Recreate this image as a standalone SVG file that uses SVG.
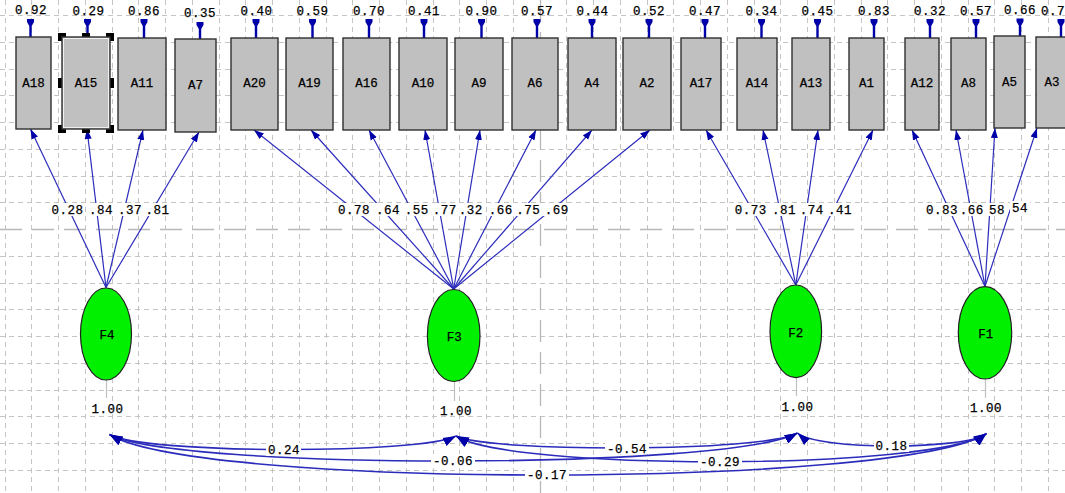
<svg xmlns="http://www.w3.org/2000/svg" width="1065" height="493" viewBox="0 0 1065 493">
<style>
.gmin{fill:none;stroke:#c4c4c4;stroke-width:1;stroke-dasharray:5 4}
.gmaj{fill:none;stroke:#b8b8b8;stroke-width:1.3;stroke-dasharray:22 10}
.ld{fill:none;stroke:#2c2cbc;stroke-width:1.2;marker-end:url(#ah)}
.cv{fill:none;stroke:#2c2cbc;stroke-width:1.6;marker-start:url(#ch);marker-end:url(#ch)}
.pin{fill:#0000a8}
.var{stroke:#c0c0c0;stroke-width:1.2}
.t{font-family:"Liberation Mono","Courier New",monospace;font-size:12.5px;letter-spacing:0.5px;fill:#000;stroke:#000;stroke-width:0.25;text-anchor:middle}
.bx{fill:#c0c0c0;stroke:#303030;stroke-width:1.4}
.el{fill:#00f000;stroke:#202020;stroke-width:1.2}
.nl{font-family:"Liberation Mono","Courier New",monospace;font-size:12.5px;fill:#000;stroke:#000;stroke-width:0.25;text-anchor:middle}
.bg{fill:#fff}
.hd{fill:#000}
</style>
<defs>
<marker id="ah" markerUnits="userSpaceOnUse" markerWidth="10" markerHeight="8" refX="10" refY="4" orient="auto"><path d="M0,0.5 L10,4 L0,7.5 Z" fill="#0000a8"/></marker>
<marker id="ch" markerUnits="userSpaceOnUse" markerWidth="13" markerHeight="10" refX="13" refY="5" orient="auto-start-reverse"><path d="M0,0.5 L13,5 L0,9.5 Z" fill="#0000a8"/></marker>
</defs>
<rect width="1065" height="493" fill="#fff"/>
<g id="grid">
<path class="gmin" d="M5.5,0V493M31.5,0V493M58.5,0V493M85.5,0V493M112.5,0V493M138.5,0V493M165.5,0V493M192.5,0V493M219.5,0V493M245.5,0V493M272.5,0V493M299.5,0V493M326.5,0V493M352.5,0V493M379.5,0V493M406.5,0V493M433.5,0V493M459.5,0V493M486.5,0V493M513.5,0V493M566.5,0V493M593.5,0V493M620.5,0V493M647.5,0V493M673.5,0V493M700.5,0V493M727.5,0V493M754.5,0V493M780.5,0V493M807.5,0V493M834.5,0V493M861.5,0V493M887.5,0V493M914.5,0V493M941.5,0V493M968.5,0V493M994.5,0V493M1021.5,0V493M1048.5,0V493"/>
<path class="gmin" d="M0,15.5H1065M0,42.5H1065M0,69.5H1065M0,95.5H1065M0,122.5H1065M0,149.5H1065M0,176.5H1065M0,202.5H1065M0,256.5H1065M0,283.5H1065M0,309.5H1065M0,336.5H1065M0,363.5H1065M0,390.5H1065M0,416.5H1065M0,443.5H1065M0,470.5H1065"/>
<path class="gmaj" d="M540.5,0V493M0,229.5H1065"/>
</g>
<g id="connectors">
<path class="ld" d="M106,287.5 L30.5,129"/>
<path class="ld" d="M106,287.5 L87,129"/>
<path class="ld" d="M106,287.5 L143,130"/>
<path class="ld" d="M106,287.5 L199,132"/>
<path class="ld" d="M453.7,289 L254,130"/>
<path class="ld" d="M453.7,289 L311,130"/>
<path class="ld" d="M453.7,289 L369,130"/>
<path class="ld" d="M453.7,289 L425,130"/>
<path class="ld" d="M453.7,289 L480,130"/>
<path class="ld" d="M453.7,289 L536,130"/>
<path class="ld" d="M453.7,289 L592,130"/>
<path class="ld" d="M453.7,289 L650,130"/>
<path class="ld" d="M795.8,285 L706,130"/>
<path class="ld" d="M795.8,285 L763,130"/>
<path class="ld" d="M795.8,285 L818,130"/>
<path class="ld" d="M795.8,285 L873,130"/>
<path class="ld" d="M985,286.5 L912,130"/>
<path class="ld" d="M985,286.5 L956,130"/>
<path class="ld" d="M985,286.5 L995,128"/>
<path class="ld" d="M985,286.5 L1037,128"/>
<g class="pin">
<path d="M27,19 h7 v3 l-2.3,4 V37 h-2.4 V26 l-2.3,-4 z"/>
<path d="M84,19 h7 v3 l-2.3,4 V38 h-2.4 V26 l-2.3,-4 z"/>
<path d="M140.5,19 h7 v3 l-2.3,4 V38 h-2.4 V26 l-2.3,-4 z"/>
<path d="M196.5,22 h7 v3 l-2.3,4 V39 h-2.4 V29 l-2.3,-4 z"/>
<path d="M252.5,19 h7 v3 l-2.3,4 V38 h-2.4 V26 l-2.3,-4 z"/>
<path d="M309,19 h7 v3 l-2.3,4 V38 h-2.4 V26 l-2.3,-4 z"/>
<path d="M365.5,19 h7 v3 l-2.3,4 V38 h-2.4 V26 l-2.3,-4 z"/>
<path d="M420.5,19 h7 v3 l-2.3,4 V38 h-2.4 V26 l-2.3,-4 z"/>
<path d="M478,19 h7 v3 l-2.3,4 V38 h-2.4 V26 l-2.3,-4 z"/>
<path d="M533.5,19 h7 v3 l-2.3,4 V38 h-2.4 V26 l-2.3,-4 z"/>
<path d="M588.5,19 h7 v3 l-2.3,4 V38 h-2.4 V26 l-2.3,-4 z"/>
<path d="M645.5,19 h7 v3 l-2.3,4 V38 h-2.4 V26 l-2.3,-4 z"/>
<path d="M701.5,19 h7 v3 l-2.3,4 V38 h-2.4 V26 l-2.3,-4 z"/>
<path d="M758,19 h7 v3 l-2.3,4 V38 h-2.4 V26 l-2.3,-4 z"/>
<path d="M814,19 h7 v3 l-2.3,4 V38 h-2.4 V26 l-2.3,-4 z"/>
<path d="M870.5,19 h7 v3 l-2.3,4 V38 h-2.4 V26 l-2.3,-4 z"/>
<path d="M926.5,19 h7 v3 l-2.3,4 V38 h-2.4 V26 l-2.3,-4 z"/>
<path d="M972.5,19 h7 v3 l-2.3,4 V38 h-2.4 V26 l-2.3,-4 z"/>
<path d="M1016.5,18.5 h7 v3 l-2.3,4 V36 h-2.4 V25.5 l-2.3,-4 z"/>
<path d="M1057.5,19 h7 v3 l-2.3,4 V37 h-2.4 V26 l-2.3,-4 z"/>
</g>
<text class="t" x="31" y="14">0.92</text>
<text class="t" x="88.5" y="15">0.29</text>
<text class="t" x="144" y="15">0.86</text>
<text class="t" x="200" y="16.5">0.35</text>
<text class="t" x="256.5" y="15">0.40</text>
<text class="t" x="312.5" y="15">0.59</text>
<text class="t" x="369" y="15">0.70</text>
<text class="t" x="424" y="15">0.41</text>
<text class="t" x="481.5" y="15">0.90</text>
<text class="t" x="537" y="15">0.57</text>
<text class="t" x="592.5" y="15">0.44</text>
<text class="t" x="649" y="15">0.52</text>
<text class="t" x="705" y="15">0.47</text>
<text class="t" x="761.5" y="15">0.34</text>
<text class="t" x="817.5" y="15">0.45</text>
<text class="t" x="874" y="15">0.83</text>
<text class="t" x="930" y="15">0.32</text>
<text class="t" x="976" y="15">0.57</text>
<text class="t" x="1020" y="13.5">0.66</text>
<text class="t" x="1041" y="14.5" style="text-anchor:start">0.7</text>
<line class="var" x1="106.5" y1="380" x2="106.5" y2="398"/>
<line class="var" x1="454.5" y1="381.5" x2="454.5" y2="401"/>
<line class="var" x1="796.5" y1="377.5" x2="796.5" y2="396"/>
<line class="var" x1="985.5" y1="379" x2="985.5" y2="398"/>
<text class="t" x="107.5" y="413">1.00</text>
<text class="t" x="456" y="415">1.00</text>
<text class="t" x="797.5" y="410.5">1.00</text>
<text class="t" x="986" y="411.5">1.00</text>
<path class="cv" d="M109.5,434.5 C144.2,454.25 421.4,454.25 456,436"/>
<path class="cv" d="M109.5,434.5 C178.3,470.1 728.7,470.1 797.5,433"/>
<path class="cv" d="M109.5,434.5 C197.2,488.7 898.8,488.7 986.5,433.5"/>
<path class="cv" d="M456,436 C490.2,452.5 763.4,452.5 797.5,433"/>
<path class="cv" d="M456,436 C509,470.7 933.5,470.7 986.5,433.5"/>
<path class="cv" d="M797.5,433 C816.4,450.25 967.6,450.25 986.5,433.5"/>
<rect class="bg" x="266" y="443" width="35" height="13"/><text class="t" x="284" y="454">0.24</text>
<rect class="bg" x="431" y="454" width="44" height="13"/><text class="t" x="453" y="465">-0.06</text>
<rect class="bg" x="525" y="468" width="44" height="13"/><text class="t" x="547" y="479">-0.17</text>
<rect class="bg" x="605" y="441" width="44" height="13"/><text class="t" x="627" y="452.5">-0.54</text>
<rect class="bg" x="698" y="455" width="44" height="13"/><text class="t" x="720" y="465.5">-0.29</text>
<rect class="bg" x="874" y="439" width="35" height="13"/><text class="t" x="891.5" y="450">0.18</text>
<rect class="bg" x="51" y="203" width="33" height="13"/><text class="t" x="67.5" y="214">0.28</text>
<rect class="bg" x="87" y="203" width="28" height="13"/><text class="t" x="101" y="214">.84</text>
<rect class="bg" x="116" y="203" width="28" height="13"/><text class="t" x="130" y="214">.37</text>
<rect class="bg" x="144" y="203" width="27" height="13"/><text class="t" x="157.5" y="214">.81</text>
<rect class="bg" x="338" y="203" width="33" height="13"/><text class="t" x="354" y="214">0.78</text>
<rect class="bg" x="375" y="203" width="26" height="13"/><text class="t" x="388" y="214">.64</text>
<rect class="bg" x="403" y="203" width="27" height="13"/><text class="t" x="416.7" y="214">.55</text>
<rect class="bg" x="431" y="203" width="27" height="13"/><text class="t" x="444.7" y="214">.77</text>
<rect class="bg" x="458" y="203" width="26" height="13"/><text class="t" x="470.8" y="214">.32</text>
<rect class="bg" x="487" y="203" width="27" height="13"/><text class="t" x="500.8" y="214">.66</text>
<rect class="bg" x="515" y="203" width="27" height="13"/><text class="t" x="528.3" y="214">.75</text>
<rect class="bg" x="543" y="203" width="27" height="13"/><text class="t" x="556.7" y="214">.69</text>
<rect class="bg" x="734" y="203" width="34" height="13"/><text class="t" x="750.8" y="214">0.73</text>
<rect class="bg" x="770" y="203" width="28" height="13"/><text class="t" x="784" y="214">.81</text>
<rect class="bg" x="798" y="203" width="27" height="13"/><text class="t" x="811.7" y="214">.74</text>
<rect class="bg" x="827" y="203" width="27" height="13"/><text class="t" x="840" y="214">.41</text>
<rect class="bg" x="926" y="203" width="33" height="13"/><text class="t" x="942" y="214">0.83</text>
<rect class="bg" x="958" y="203" width="28" height="13"/><text class="t" x="971.7" y="214">.66</text>
<rect class="bg" x="988" y="203" width="19" height="13"/><text class="t" x="997" y="214">58</text>
<rect class="bg" x="1010" y="201" width="20" height="13"/><text class="t" x="1020" y="212">54</text>
</g>
<g id="A18"><rect class="bx" x="16" y="37" width="35" height="92"/><text class="nl" x="33.5" y="87">A18</text></g>
<g id="A15">
<rect class="hd" x="58" y="33" width="8" height="8"/><rect class="hd" x="106" y="33" width="8" height="8"/><rect class="hd" x="58" y="125" width="8" height="8"/><rect class="hd" x="106" y="125" width="8" height="8"/>
<rect class="hd" x="82" y="33" width="8" height="8"/><rect class="hd" x="82" y="125" width="8" height="8"/><rect class="hd" x="58" y="78" width="8" height="10"/><rect class="hd" x="106" y="78" width="8" height="10"/>
<rect class="bx" x="62" y="37" width="48" height="92"/><rect x="63.5" y="38.5" width="45" height="89" fill="none" stroke="#f0f0f0" stroke-width="1"/>
<text class="nl" x="86" y="87">A15</text></g>
<g id="A11"><rect class="bx" x="118" y="38" width="48" height="92"/><text class="nl" x="142" y="87">A11</text></g>
<g id="A7"><rect class="bx" x="175" y="39" width="41" height="93"/><text class="nl" x="195.5" y="89">A7</text></g>
<g id="A20"><rect class="bx" x="231" y="38" width="47" height="92"/><text class="nl" x="254.5" y="87">A20</text></g>
<g id="A19"><rect class="bx" x="286" y="38" width="47" height="92"/><text class="nl" x="309.5" y="87">A19</text></g>
<g id="A16"><rect class="bx" x="343" y="38" width="47" height="92"/><text class="nl" x="366.5" y="87">A16</text></g>
<g id="A10"><rect class="bx" x="399" y="38" width="48" height="92"/><text class="nl" x="423" y="87">A10</text></g>
<g id="A9"><rect class="bx" x="455" y="38" width="48" height="92"/><text class="nl" x="479" y="87">A9</text></g>
<g id="A6"><rect class="bx" x="512" y="38" width="46" height="92"/><text class="nl" x="535" y="87">A6</text></g>
<g id="A4"><rect class="bx" x="568" y="38" width="48" height="92"/><text class="nl" x="592" y="87">A4</text></g>
<g id="A2"><rect class="bx" x="623" y="38" width="48" height="92"/><text class="nl" x="647" y="87">A2</text></g>
<g id="A17"><rect class="bx" x="681" y="38" width="40" height="92"/><text class="nl" x="701" y="87">A17</text></g>
<g id="A14"><rect class="bx" x="737" y="38" width="40" height="92"/><text class="nl" x="757" y="87">A14</text></g>
<g id="A13"><rect class="bx" x="792" y="38" width="38" height="92"/><text class="nl" x="811" y="87">A13</text></g>
<g id="A1"><rect class="bx" x="849" y="38" width="35" height="92"/><text class="nl" x="866.5" y="87">A1</text></g>
<g id="A12"><rect class="bx" x="905" y="38" width="34" height="92"/><text class="nl" x="922" y="87">A12</text></g>
<g id="A8"><rect class="bx" x="951" y="38" width="35" height="92"/><text class="nl" x="968.5" y="87">A8</text></g>
<g id="A5"><rect class="bx" x="994" y="36" width="31" height="92"/><text class="nl" x="1009.5" y="86">A5</text></g>
<g id="A3"><rect class="bx" x="1036" y="37" width="40" height="91"/><text class="nl" x="1052" y="86">A3</text></g>
<g id="F4"><ellipse class="el" cx="106" cy="334" rx="25.5" ry="46"/><text class="nl" x="107" y="339">F4</text></g>
<g id="F3"><ellipse class="el" cx="453.7" cy="335.5" rx="26.3" ry="46"/><text class="nl" x="454.2" y="340.5">F3</text></g>
<g id="F2"><ellipse class="el" cx="795.8" cy="331.3" rx="25.8" ry="46.3"/><text class="nl" x="795.8" y="336.5">F2</text></g>
<g id="F1"><ellipse class="el" cx="985" cy="332.8" rx="26.7" ry="46.2"/><text class="nl" x="985.8" y="338">F1</text></g>
</svg>
